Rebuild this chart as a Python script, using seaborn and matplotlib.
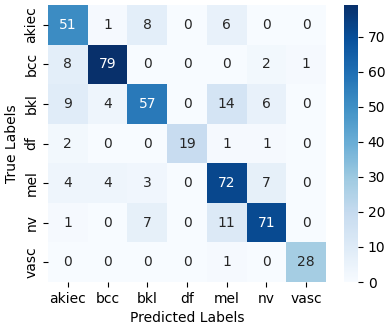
import matplotlib
matplotlib.use("Agg")
import matplotlib.pyplot as plt
import seaborn as sns
import numpy as np

labels = ["akiec", "bcc", "bkl", "df", "mel", "nv", "vasc"]
row_akiec = [51, 1, 8, 0, 6, 0, 0]
row_bcc = [8, 79, 0, 0, 0, 2, 1]
row_bkl = [9, 4, 57, 0, 14, 6, 0]
row_df = [2, 0, 0, 19, 1, 1, 0]
row_mel = [4, 4, 3, 0, 72, 7, 0]
row_nv = [1, 0, 7, 0, 11, 71, 0]
row_vasc = [0, 0, 0, 0, 1, 0, 28]

cm = np.array([row_akiec, row_bcc, row_bkl, row_df, row_mel, row_nv, row_vasc])

fig = plt.figure(figsize=(3.89, 3.28), dpi=100)
ax = fig.add_axes([48/389, 46/328, 278/389, 277/328])
cax = fig.add_axes([344/389, 46/328, 14/389, 277/328])
sns.heatmap(cm, annot=True, fmt="d", cmap="Blues", xticklabels=labels,
            yticklabels=labels, ax=ax, cbar_ax=cax)
ax.set_xlabel("Predicted Labels")
ax.set_ylabel("True Labels")
fig.savefig("out.png", dpi=100)
